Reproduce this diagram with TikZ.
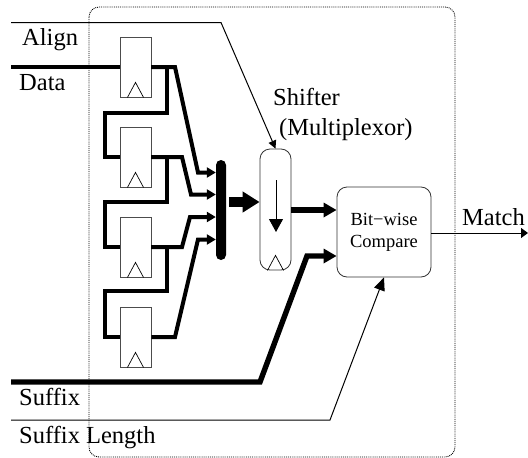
\documentclass[tikz,border=0pt]{standalone}
\usepackage{fontspec}
\setmainfont{Liberation Serif}
\usetikzlibrary{arrows.meta}

\begin{document}
\begin{tikzpicture}[x=1pt,y=-1pt]
	\tikzstyle{every node}+=[inner sep=0pt]
	\tikzstyle{label}=[anchor=base west,font=\fontsize{24.5}{28}\selectfont]
	\tikzstyle{register}=[draw=black!70,line width=0.8pt,minimum width=31pt,minimum height=60pt]
	\tikzstyle{clock}=[line width=0.7pt]
	\tikzstyle{wire}=[line width=1pt]
	\tikzstyle{bus}=[line width=4pt,miter limit=10]
	\tikzstyle{feed}=[line width=4pt,-{Triangle[length=9pt,width=10pt]}]
	\tikzstyle{fat}=[line width=5.4pt,-{Triangle[length=13pt,width=14pt]}]
	\useasboundingbox (0,0) rectangle (528,458);
	% enclosing block
	\draw [black,densely dotted,line width=0.9pt,rounded corners=10pt] (89,7) rectangle (455,457);
	% registers
	\node [register] (reg1) at (135.5,67) {};
	\node [register] (reg2) at (135.5,157) {};
	\node [register] (reg3) at (135.5,247) {};
	\node [register] (reg4) at (135.5,337) {};
	\draw [clock] ([xshift=-8pt]reg1.south) -- ([yshift=15pt]reg1.south) -- ([xshift=8pt]reg1.south);
	\draw [clock] ([xshift=-8pt]reg2.south) -- ([yshift=15pt]reg2.south) -- ([xshift=8pt]reg2.south);
	\draw [clock] ([xshift=-8pt]reg3.south) -- ([yshift=15pt]reg3.south) -- ([xshift=8pt]reg3.south);
	\draw [clock] ([xshift=-8pt]reg4.south) -- ([yshift=15pt]reg4.south) -- ([xshift=8pt]reg4.south);
	% multiplexor and comparator
	\node [fill=black,rounded corners=5pt,minimum width=10pt,minimum height=100pt] (join) at (221,210) {};
	\node [draw=black!80,line width=0.8pt,rounded corners=10pt,minimum width=31pt,minimum height=121pt] (shifter) at (275.5,209.5) {};
	\node [draw=black!80,line width=0.8pt,rounded corners=10pt,minimum width=94pt,minimum height=90pt,align=center,font=\fontsize{18.5}{22}\selectfont] (compare) at (384,232) {Bit−wise\\Compare};
	\draw [clock] ([xshift=-8pt]shifter.south) -- ([yshift=15pt]shifter.south) -- ([xshift=8pt]shifter.south);
	\coordinate (shiftTop) at (276,180);
	\coordinate (shiftBot) at (276,232);
	\draw [wire,-{Triangle[length=13pt,width=14pt]}] (shiftTop) -- (shiftBot);
	% free ends
	\coordinate (alignIn) at (11,22.5);
	\coordinate (dataIn) at (11,67);
	\coordinate (suffixIn) at (11,382);
	\coordinate (lengthIn) at (11,420);
	\coordinate (matchOut) at (528,233);
	% inputs
	\draw [wire,-{Triangle[length=8pt,width=8pt]}] (alignIn) -- (221,22.5) -- (shifter.north);
	\draw [line width=4pt] (dataIn) -- (reg1.west);
	\draw [fat] (suffixIn) -- (260,382) -- (307,256) -- (compare.west |- 0,256);
	\draw [wire,-{Triangle[length=13pt,width=11pt]}] (lengthIn) -- (330,420) -- (compare.south);
	% register chain
	\draw [bus] (reg1.east) -| (167,113) -| (105,157) -- (reg2.west);
	\draw [bus] (reg2.east) -| (167,202) -| (105,247) -- (reg3.west);
	\draw [bus] (reg3.east) -| (167,291) -| (105,337) -- (reg4.west);
	% into the multiplexor
	\draw [feed] (reg1.east) -- (175,67) -- (198,172.5) -- (join.west |- 0,172.5);
	\draw [feed] (reg2.east) -- (182,157) -- (191,194.5) -- (join.west |- 0,194.5);
	\draw [feed] (reg3.east) -- (182,247) -- (190,217) -- (join.west |- 0,217);
	\draw [feed] (reg4.east) -- (175,337) -- (198,239.5) -- (join.west |- 0,239.5);
	\draw [line width=10pt,-{Triangle[length=17pt,width=20pt]}] (join.east |- 0,202) ++(3,0) -- (shifter.west |- 0,202);
	\draw [fat] (shifter.east |- 0,210) -- (compare.west |- 0,210);
	\draw [wire,-{Triangle[length=7pt,width=10pt]}] (compare.east |- matchOut) -- (matchOut);
	% labels
	\node [label] (alignLbl) at (22,45) {Align};
	\node [label] (dataLbl) at (19,90) {Data};
	\node [label] (suffixLbl) at (19,405) {Suffix};
	\node [label] (lengthLbl) at (19,443) {Suffix Length};
	\node [label] (shifterLbl) at (273,105) {Shifter};
	\node [label] (muxLbl) at (279,135) {(Multiplexor)};
	\node [label] (matchLbl) at (462,225) {Match};
\end{tikzpicture}
\end{document}
